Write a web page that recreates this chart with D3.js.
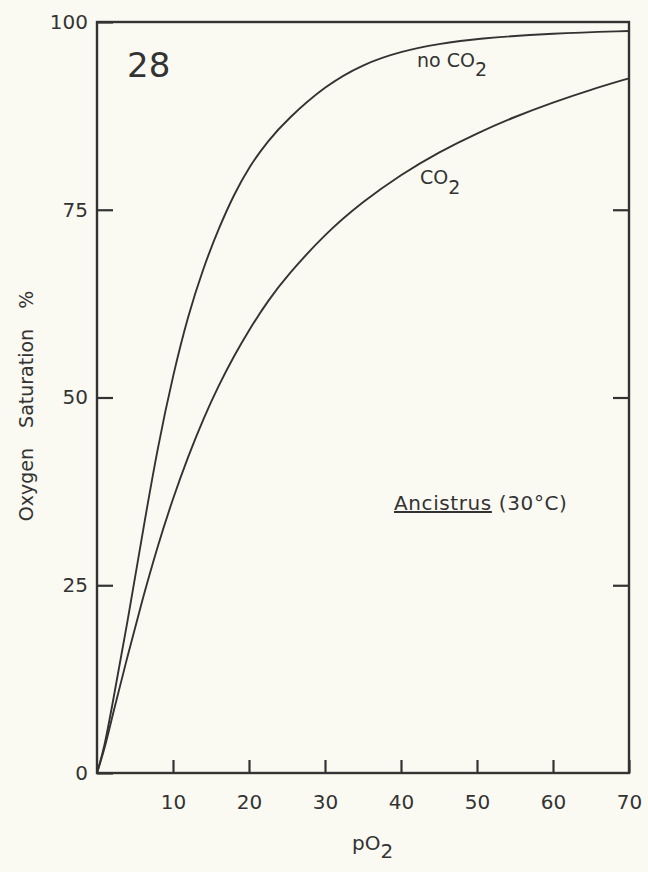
<!DOCTYPE html>
<html>
<head>
<meta charset="utf-8">
<script src="https://cdn.jsdelivr.net/npm/d3@7"></script>
<style>
  body { margin: 0; background: #fbfaf2; }
  svg { display: block; }
  text { font-family: "DejaVu Sans", sans-serif; fill: #333; }
</style>
</head>
<body>
<div id="chart"></div>
<script>
// oxygen equilibrium curves
const pO2NoCO2 = [0, 1, 2, 4, 6, 8, 10, 12, 14, 16, 18, 20, 22.5, 25, 30, 35, 40, 45, 50, 60, 70];
const satNoCO2 = [0, 3.5, 9, 20, 32, 43.5, 53, 61, 67.3, 72.5, 77, 80.7, 84.2, 87, 91.5, 94.4, 96.1, 97.1, 97.8, 98.5, 98.8];

const pO2CO2 = [0, 1, 2, 4, 6, 8, 10, 12, 14, 16, 18, 20, 22.5, 25, 30, 35, 40, 45, 50, 55, 60, 65, 70];
const satCO2 = [0, 3.2, 7.5, 15.5, 23.2, 30.3, 36.6, 42.2, 47.2, 51.6, 55.5, 59, 62.9, 66.2, 71.8, 76.1, 79.7, 82.7, 85.2, 87.4, 89.3, 91, 92.5];

const xTicks = [10, 20, 30, 40, 50, 60, 70];
const yTicks = [0, 25, 50, 75, 100];

const width = 648,
  height = 872;

const x = d3.scaleLinear().domain([0, 70]).range([97, 629]);
const y = d3.scaleLinear().domain([0, 100]).range([773, 22]);

const svg = d3
  .select("#chart")
  .append("svg")
  .attr("width", width)
  .attr("height", height);

// frame
svg
  .append("rect")
  .attr("x", x(0))
  .attr("y", y(100))
  .attr("width", x(70) - x(0))
  .attr("height", y(0) - y(100))
  .attr("fill", "none")
  .attr("stroke", "#333")
  .attr("stroke-width", 2.4);

const xAxis = svg
  .append("g")
  .attr("transform", "translate(0," + y(0) + ")")
  .call(d3.axisBottom(x).tickValues(xTicks).tickSize(-13).tickPadding(22));

const yAxis = svg
  .append("g")
  .attr("transform", "translate(" + x(0) + ",0)")
  .call(d3.axisLeft(y).tickValues(yTicks).tickSize(-16).tickPadding(9));

const yAxisRight = svg
  .append("g")
  .attr("transform", "translate(" + x(70) + ",0)")
  .call(d3.axisRight(y).tickValues([25, 50, 75]).tickSize(-16).tickFormat(""));

[xAxis, yAxis, yAxisRight].forEach((g) => {
  g.select(".domain").remove();
  g.selectAll("line").attr("stroke", "#333").attr("stroke-width", 2.2);
  g.selectAll("text")
    .attr("font-size", 20)
    .attr("fill", "#333")
    .style("font-family", "'DejaVu Sans', sans-serif");
});

const line = d3
  .line()
  .x((d) => x(d[0]))
  .y((d) => y(d[1]))
  .curve(d3.curveBasis);

svg
  .append("path")
  .datum(pO2NoCO2.map((p, i) => [p, satNoCO2[i]]))
  .attr("d", line)
  .attr("fill", "none")
  .attr("stroke", "#333")
  .attr("stroke-width", 1.9);

svg
  .append("path")
  .datum(pO2CO2.map((p, i) => [p, satCO2[i]]))
  .attr("d", line)
  .attr("fill", "none")
  .attr("stroke", "#333")
  .attr("stroke-width", 1.9);

// labels
svg.append("text").attr("x", 127).attr("y", 77).attr("font-size", 34).text("28");

const noLabel = svg.append("text").attr("x", 417).attr("y", 67).attr("font-size", 19);
noLabel.append("tspan").text("no CO");
noLabel.append("tspan").attr("dy", 9).text("2");

const co2Label = svg.append("text").attr("x", 420).attr("y", 184).attr("font-size", 19);
co2Label.append("tspan").text("CO");
co2Label.append("tspan").attr("dy", 10).text("2");

const species = svg
  .append("text")
  .attr("x", 394)
  .attr("y", 510)
  .attr("font-size", 20)
  .attr("letter-spacing", 0.6);
species.append("tspan").attr("text-decoration", "underline").text("Ancistrus");
species.append("tspan").text(" (30°C)");

svg
  .append("text")
  .attr("transform", "translate(33,406) rotate(-90)")
  .attr("text-anchor", "middle")
  .attr("font-size", 19)
  .attr("word-spacing", 14)
  .text("Oxygen Saturation %");

const xTitle = svg.append("text").attr("x", 352).attr("y", 850).attr("font-size", 20);
xTitle.append("tspan").text("pO");
xTitle.append("tspan").attr("dy", 8).text("2");
</script>
</body>
</html>
